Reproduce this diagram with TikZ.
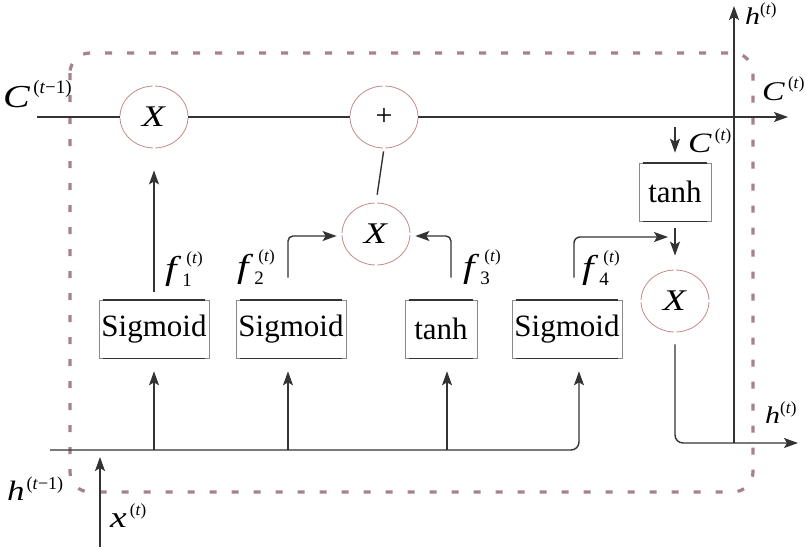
\documentclass[tikz,border=0pt]{standalone}
\usepackage{fontspec}
\setmainfont{Liberation Serif}
\usepackage{graphicx}
\usetikzlibrary{arrows.meta,shapes.geometric}
\definecolor{ink}{HTML}{333333}
\definecolor{mauve}{HTML}{A5838C}
\definecolor{ring}{HTML}{C48A8A}
\definecolor{side}{HTML}{8A8A8A}
\newcommand\iv[1]{\scalebox{1.25}[1]{\textit{#1}}}
\newcommand\tsup[1]{{\fontsize{17}{17}\selectfont(\textit{#1})}}
\newcommand\flab[1]{\iv{f}\kern1pt\rlap{\raisebox{-7pt}{\fontsize{19}{19}\selectfont #1}}\kern4pt\raisebox{16pt}{\tsup{t}}}
\begin{document}
\begin{tikzpicture}[x=1pt,y=-1pt,
  line/.style={draw=ink,line width=1.4pt},
  arr/.style={line,-{Stealth[length=14pt,width=10pt,inset=3pt]}},
  op/.style={ellipse,draw=ring,line width=0.8pt,minimum width=68pt,minimum height=62pt,
    inner sep=0pt,font=\fontsize{30}{30}\selectfont,
    dash pattern=on 48.6pt off 2.5pt,dash phase=49.85pt},
  gate/.style={rectangle,draw=side,line width=0.6pt,minimum width=110pt,minimum height=58pt,
    inner sep=0pt,font=\fontsize{31}{31}\selectfont},
  gateedge/.style={draw=ink,line width=1.6pt},
  lbl/.style={inner sep=0pt,anchor=base west,font=\fontsize{32}{32}\selectfont},
  dashbox/.style={draw=mauve,line width=3.2pt,dash pattern=on 7pt off 15pt,rounded corners=20pt}]
\useasboundingbox (0,0) rectangle (806,549);
% dashed cell border
\draw[dashbox] (70,53) rectangle (753,492);
% operator nodes
\node[op] (x1) at (154,117) {\iv{X}};
\node[op] (plus) at (384,117) {+};
\node[op] (x2) at (376,234) {\iv{X}};
\node[op] (x3) at (675,301) {\iv{X}};
% gates
\node[gate] (b1) at (154,329) {Sigmoid};
\node[gate] (b2) at (291,329) {Sigmoid};
\node[gate,minimum width=72pt] (b3) at (441,329) {tanh};
\node[gate] (b4) at (567,329) {Sigmoid};
\node[gate,minimum width=72pt] (b5) at (675,192) {tanh};
\foreach \g in {b1,b2,b3,b4,b5}{
  \draw[gateedge] ([xshift=4pt]\g.north west) -- ([xshift=-4pt]\g.north east);
  \draw[gateedge] ([xshift=4pt]\g.south west) -- ([xshift=-4pt]\g.south east);
}
% coordinates for free ends
\coordinate (cin) at (37,117);
\coordinate (cout) at (788,117);
\coordinate (hin) at (50,450);
\coordinate (xin) at (100,547);
\coordinate (xtip) at (100,457);
\coordinate (hjoin) at (734,443);
\coordinate (htop) at (734,6);
\coordinate (hout) at (798,443);
\coordinate (cdn) at (675,127);
\coordinate (f4end) at (668,237);
% cell state line
\draw[line] (cin) -- (x1);
\draw[line] (x1) -- (plus);
\draw[arr] (plus) -- (cout);
\draw[line,shorten <=3pt,shorten >=8pt] (plus.south) -- (x2.north);
% gate outputs
\draw[arr] ([yshift=8pt]b1.north) -- ([yshift=-22pt]x1.south);
\draw[arr,rounded corners=5pt] ([xshift=-3pt,yshift=22pt]b2.north) |- ([xshift=-5pt,yshift=-2pt]x2.west);
\draw[arr,rounded corners=5pt] ([xshift=10pt,yshift=22pt]b3.north) |- ([xshift=5pt,yshift=-2pt]x2.east);
\draw[arr,rounded corners=6pt] ([xshift=7pt,yshift=22pt]b4.north) |- (f4end);
\draw[arr] (cdn) -- ([yshift=10pt]b5.north);
\draw[arr] ([yshift=-7pt]b5.south) -- ([yshift=14pt]x3.north);
% output h
\draw[arr,rounded corners=8pt] ([yshift=-12pt]x3.south) |- (hout);
\draw[arr] (hjoin) -- (htop);
% inputs
\draw[arr,rounded corners=8pt] (hin) -| ([xshift=12pt,yshift=-13pt]b4.south);
\draw[arr] (b1.south |- hin) -- ([yshift=-13pt]b1.south);
\draw[arr] ([xshift=-3pt]b2.south |- hin) -- ([xshift=-3pt,yshift=-13pt]b2.south);
\draw[arr] ([xshift=6pt]b3.south |- hin) -- ([xshift=6pt,yshift=-13pt]b3.south);
\draw[arr] (xin) -- (xtip);
% labels
\node[lbl] (lc0) at (3,107) {\iv{C}\kern3pt\raisebox{14pt}{\fontsize{19}{19}\selectfont(\textit{t}−1)}};
\node[lbl,font=\fontsize{27}{27}\selectfont] (lc1) at (762,100) {\iv{C}\kern3pt\raisebox{12pt}{\tsup{t}}};
\node[lbl,font=\fontsize{28}{28}\selectfont] (lc2) at (688,152) {\iv{C}\kern3pt\raisebox{12pt}{\tsup{t}}};
\node[lbl,font=\fontsize{24}{24}\selectfont] (lh1) at (745,24) {\iv{h}\raisebox{10pt}{\tsup{t}}};
\node[lbl,font=\fontsize{24}{24}\selectfont] (lh2) at (765,423) {\iv{h}\raisebox{10pt}{\tsup{t}}};
\node[lbl,font=\fontsize{28}{28}\selectfont] (lh0) at (7,500) {\iv{h}\kern2pt\raisebox{11pt}{\fontsize{18}{18}\selectfont(\textit{t}−1)}};
\node[lbl,font=\fontsize{30}{30}\selectfont] (lx) at (110,527) {\iv{x}\kern3pt\raisebox{12pt}{\tsup{t}}};
\node[lbl,font=\fontsize{33}{33}\selectfont] (lf1) at (165,279) {\flab{1}};
\node[lbl,font=\fontsize{33}{33}\selectfont] (lf2) at (237,277) {\flab{2}};
\node[lbl,font=\fontsize{33}{33}\selectfont] (lf3) at (463,277) {\flab{3}};
\node[lbl,font=\fontsize{33}{33}\selectfont] (lf4) at (582,278) {\flab{4}};
\end{tikzpicture}
\end{document}
